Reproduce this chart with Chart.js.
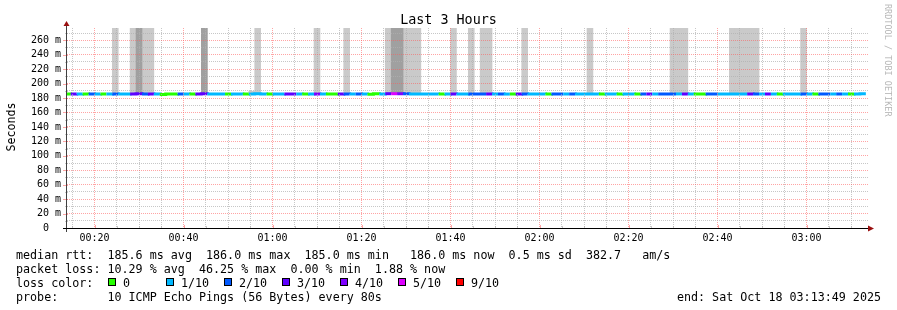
<!DOCTYPE html>
<html>
<head>
<meta charset="utf-8">
<script src="https://cdn.jsdelivr.net/npm/chart.js@4/dist/chart.umd.min.js"></script>
<style>
html,body{margin:0;padding:0;background:#fff;}
#wrap{position:relative;width:897px;height:310px;overflow:hidden;font-family:'DejaVu Sans Mono',monospace;color:#000;background:#fff;}
#c{position:absolute;left:0;top:0;}
.txt{position:absolute;white-space:pre;font-size:11.7px;line-height:14px;}
#title{position:absolute;left:0;top:12px;width:897px;text-align:center;font-size:13.4px;line-height:16px;white-space:pre;}
#ytitle{position:absolute;left:-39px;top:120px;width:100px;height:14px;line-height:14px;text-align:center;font-size:11.6px;transform:rotate(-90deg);white-space:pre;}
#wm{position:absolute;left:838px;top:49px;width:100px;height:10px;line-height:10px;text-align:center;font-size:8.5px;color:#b8b8b8;transform:rotate(90deg);white-space:pre;}
.box{position:absolute;width:6px;height:6px;border:1px solid #000;}
</style>
</head>
<body>
<div id="wrap">
<canvas id="c" width="897" height="310"></canvas>
<div id="title"></div>
<div id="ytitle"></div>
<div id="wm"></div>
<div id="legend"></div>
</div>
<script>
// ---------------- data ----------------
const chartTitle = 'Last 3 Hours';
const yAxisTitle = 'Seconds';
const watermark = 'RRDTOOL / TOBI OETIKER';
// time axis (minutes after midnight)
const viewStart = 13 + 49 / 60;     // 00:13:49
const viewEnd = 193 + 49 / 60;      // 03:13:49
const firstStepStart = 13 + 20 / 60; // 00:13:20, step length 80 s
const stepMinutes = 80 / 60;
// loss per 80 s step (number of lost pings out of 10)
const lossPerStep = [
 0,3,1,0,2,1,0,1,2,1,
 1,3,3,2,3,1,0,0,0,2,
 1,0,3,3,1,1,1,0,1,1,
 0,1,1,1,0,1,1,3,3,1,
 0,1,4,1,0,0,3,2,1,2,
 1,0,0,1,3,5,4,2,1,1,
 1,1,1,0,1,3,1,1,2,2,
 2,3,1,2,1,0,3,2,1,1,
 1,0,2,2,1,2,1,1,1,1,
 0,1,1,0,1,1,0,2,3,1,
 2,2,2,1,3,1,0,0,2,2,
 1,1,1,1,1,3,2,1,3,1,
 0,1,1,1,2,1,0,2,2,1,
 2,1,0,1,1
];
// median rtt per step (ms)
const medianMs = [
 185.6,185.5,185.6,185.7,185.6,185.5,185.6,185.6,185.7,185.6,
 185.6,185.7,185.8,185.6,185.7,185.5,185.0,185.5,185.5,185.6,
 185.6,185.5,185.7,185.8,185.6,185.6,185.5,185.5,185.6,185.6,
 185.5,185.7,185.8,185.6,185.5,185.6,185.6,185.7,185.6,185.6,
 185.5,185.6,185.7,185.6,185.5,185.5,185.6,185.7,185.6,185.6,
 185.5,185.4,186.0,185.7,186.0,186.0,186.0,185.9,185.6,185.6,
 185.6,185.5,185.6,185.5,185.6,185.7,185.6,185.6,185.7,185.6,
 185.7,185.7,185.6,185.6,185.5,185.5,185.6,185.7,185.6,185.6,
 185.6,185.5,185.6,185.6,185.6,185.6,185.5,185.6,185.7,185.6,
 185.5,185.6,185.6,185.5,185.6,185.6,185.5,185.6,185.6,185.6,
 185.6,185.6,185.7,185.7,185.7,185.6,185.5,185.5,185.6,185.6,
 185.6,185.6,185.7,185.7,185.7,185.7,185.6,185.6,185.6,185.6,
 185.5,185.6,185.6,185.6,185.7,185.6,185.5,185.6,185.6,185.6,
 185.6,185.6,185.5,185.6,186.0
];
// smoke: steps where slow pings occurred and the highest rtt (ms)
const outerSmokeSteps = [8,11,12,13,14,23,31,32,42,47,54,55,56,57,58,59,65,68,70,71,77,88,102,103,104,112,113,114,115,116,124];
const outerSmokeTop   = [412,395,640,388,402,520,189.5,377,431,366,398,702,655,410,392,371,383,405,379,390,368,401,386,372,394,380,376,389,397,385,409];
const innerSmokeSteps = [12,23,55,56];
const innerSmokeTop   = [598,486,660,612];
// legend
const lossLevels = [0,1,2,3,4,5,9];
const lossLabels = ['0','1/10','2/10','3/10','4/10','5/10','9/10'];
const lossColors = {0:'#26ff00',1:'#00b8ff',2:'#0059ff',3:'#5e00ff',4:'#7e00ff',5:'#dd00ff',9:'#ff0000'};
const legendRows = [
 'median rtt:  185.6 ms avg  186.0 ms max  185.0 ms min   186.0 ms now  0.5 ms sd  382.7   am/s',
 'packet loss: 10.29 % avg  46.25 % max  0.00 % min  1.88 % now',
 'loss color:',
 'probe:       10 ICMP Echo Pings (56 Bytes) every 80s'
];
const endLabel = 'end: Sat Oct 18 03:13:49 2025';
const yMax = 277;
const yTickStep = 10;
const yLabelStep = 20;
const xTickStep = 5;
const xLabelStep = 20;

// ---------------- text ----------------
document.getElementById('title').textContent = chartTitle;
document.getElementById('ytitle').textContent = yAxisTitle;
document.getElementById('wm').textContent = watermark;
const leg = document.getElementById('legend');
const rowTop = [247.5, 261.5, 275.5, 289.5];
legendRows.forEach((t, i) => {
  const d = document.createElement('div');
  d.className = 'txt'; d.style.left = '16px'; d.style.top = rowTop[i] + 'px';
  d.textContent = t; leg.appendChild(d);
});
lossLevels.forEach((lv, k) => {
  const b = document.createElement('div');
  b.className = 'box'; b.style.left = (108 + 58 * k) + 'px'; b.style.top = '278px';
  b.style.background = lossColors[lv]; leg.appendChild(b);
  const t = document.createElement('div');
  t.className = 'txt'; t.style.left = (123 + 58 * k) + 'px'; t.style.top = rowTop[2] + 'px';
  t.textContent = lossLabels[k]; leg.appendChild(t);
});
const endDiv = document.createElement('div');
endDiv.className = 'txt'; endDiv.style.right = (897 - 881) + 'px'; endDiv.style.top = rowTop[3] + 'px';
endDiv.textContent = endLabel; leg.appendChild(endDiv);

// ---------------- chart data ----------------
const stepStart = i => firstStepStart + i * stepMinutes;
const linePoints = medianMs.map((v, i) => ({x: stepStart(i), y: v}));
linePoints.push({x: stepStart(medianMs.length), y: medianMs[medianMs.length - 1]});
function smokeData(steps, tops) {
  return medianMs.map((m, i) => {
    const k = steps.indexOf(i);
    return {x: stepStart(i) + stepMinutes / 2, y: k >= 0 ? [m, tops[k]] : null};
  });
}
const pad2 = n => String(n).padStart(2, '0');
const fmtTime = v => pad2(Math.floor(v / 60)) + ':' + pad2(Math.round(v % 60));
const RED = 'rgba(255,90,90,0.55)';
const GREY = 'rgba(175,175,175,0.7)';

const axesPlugin = {
  id: 'rrdAxes',
  afterDraw(chart) {
    const {ctx, chartArea: a, scales} = chart;
    ctx.save();
    ctx.lineWidth = 1;
    // x ticks
    scales.x.ticks.forEach(t => {
      const px = Math.round(scales.x.getPixelForValue(t.value)) + 0.5;
      const major = t.value % xLabelStep === 0;
      ctx.strokeStyle = major ? RED : GREY;
      ctx.beginPath(); ctx.moveTo(px, a.bottom - (major ? 3 : 2)); ctx.lineTo(px, a.bottom + 1); ctx.stroke();
    });
    // y ticks
    scales.y.ticks.forEach(t => {
      const py = Math.round(scales.y.getPixelForValue(t.value)) + 0.5;
      const major = t.value % yLabelStep === 0;
      ctx.strokeStyle = major ? RED : GREY;
      ctx.beginPath(); ctx.moveTo(a.left - (major ? 4 : 2), py); ctx.lineTo(a.left + 1, py); ctx.stroke();
    });
    // axis lines
    ctx.strokeStyle = '#404040';
    ctx.beginPath(); ctx.moveTo(a.left - 0.5, a.bottom + 4); ctx.lineTo(a.left - 0.5, a.top - 3); ctx.stroke();
    ctx.strokeStyle = '#000';
    ctx.beginPath(); ctx.moveTo(a.left - 4, a.bottom + 0.5); ctx.lineTo(a.right + 1, a.bottom + 0.5); ctx.stroke();
    // arrows
    ctx.fillStyle = '#9a1010';
    ctx.beginPath(); ctx.moveTo(a.left - 3.5, a.top - 2); ctx.lineTo(a.left + 2.5, a.top - 2); ctx.lineTo(a.left - 0.5, a.top - 7); ctx.closePath(); ctx.fill();
    ctx.beginPath(); ctx.moveTo(a.right, a.bottom - 2.5); ctx.lineTo(a.right, a.bottom + 3.5); ctx.lineTo(a.right + 6, a.bottom + 0.5); ctx.closePath(); ctx.fill();
    ctx.restore();
  }
};

Chart.defaults.font.family = "'DejaVu Sans Mono', monospace";
Chart.defaults.color = '#000';

new Chart(document.getElementById('c'), {
  data: {
    datasets: [
      {
        type: 'line', label: 'median', data: linePoints, order: 0,
        stepped: true, borderWidth: 3, pointRadius: 0, borderCapStyle: 'butt',
        borderColor: '#26ff00',
        segment: { borderColor: c => lossColors[lossPerStep[c.p0DataIndex]] },
        clip: 0
      },
      {
        type: 'bar', label: 'inner smoke', data: smokeData(innerSmokeSteps, innerSmokeTop), order: 1,
        backgroundColor: '#a0a0a0', borderWidth: 0, barPercentage: 1, categoryPercentage: 1, grouped: false, clip: 0
      },
      {
        type: 'bar', label: 'outer smoke', data: smokeData(outerSmokeSteps, outerSmokeTop), order: 2,
        backgroundColor: '#cacaca', borderWidth: 0, barPercentage: 1, categoryPercentage: 1, grouped: false, clip: 0
      }
    ]
  },
  options: {
    responsive: false, animation: false, devicePixelRatio: 1,
    layout: { padding: { left: 0, right: 29, top: 28, bottom: 0 } },
    plugins: { legend: { display: false }, tooltip: { enabled: false }, title: { display: false } },
    scales: {
      x: {
        type: 'linear', min: viewStart, max: viewEnd, offset: false,
        afterBuildTicks: s => {
          const t = [];
          for (let v = Math.ceil(viewStart / xTickStep) * xTickStep; v <= viewEnd; v += xTickStep) t.push({value: v});
          s.ticks = t;
        },
        afterFit: s => { s.height = 82; },
        ticks: {
          autoSkip: false, maxRotation: 0, minRotation: 0, padding: 4,
          font: { size: 10 }, color: '#000',
          callback: v => (v % xLabelStep === 0 ? fmtTime(v) : '')
        },
        grid: {
          offset: false, drawTicks: false, z: 1, lineWidth: 1,
          color: c => (c.tick && c.tick.value % xLabelStep === 0 ? RED : GREY),
          borderDash: [1, 1]
        },
        border: { display: false, dash: [1, 1] }
      },
      y: {
        type: 'linear', min: 0, max: yMax,
        afterBuildTicks: s => {
          const t = [];
          for (let v = 0; v <= yMax; v += yTickStep) t.push({value: v});
          s.ticks = t;
        },
        afterFit: s => { s.width = 67; },
        ticks: {
          autoSkip: false, padding: 6, font: { size: 10 }, color: '#000',
          callback: v => (v % yLabelStep === 0 ? (v === 0 ? '0  ' : v + ' m') : '')
        },
        grid: {
          offset: false, drawTicks: false, z: 1, lineWidth: 1,
          color: c => (c.tick && c.tick.value === 0 ? 'rgba(0,0,0,0)' : (c.tick && c.tick.value % yLabelStep === 0 ? RED : GREY)),
          borderDash: [1, 1]
        },
        border: { display: false, dash: [1, 1] }
      }
    }
  },
  plugins: [axesPlugin]
});
</script>
</body>
</html>
